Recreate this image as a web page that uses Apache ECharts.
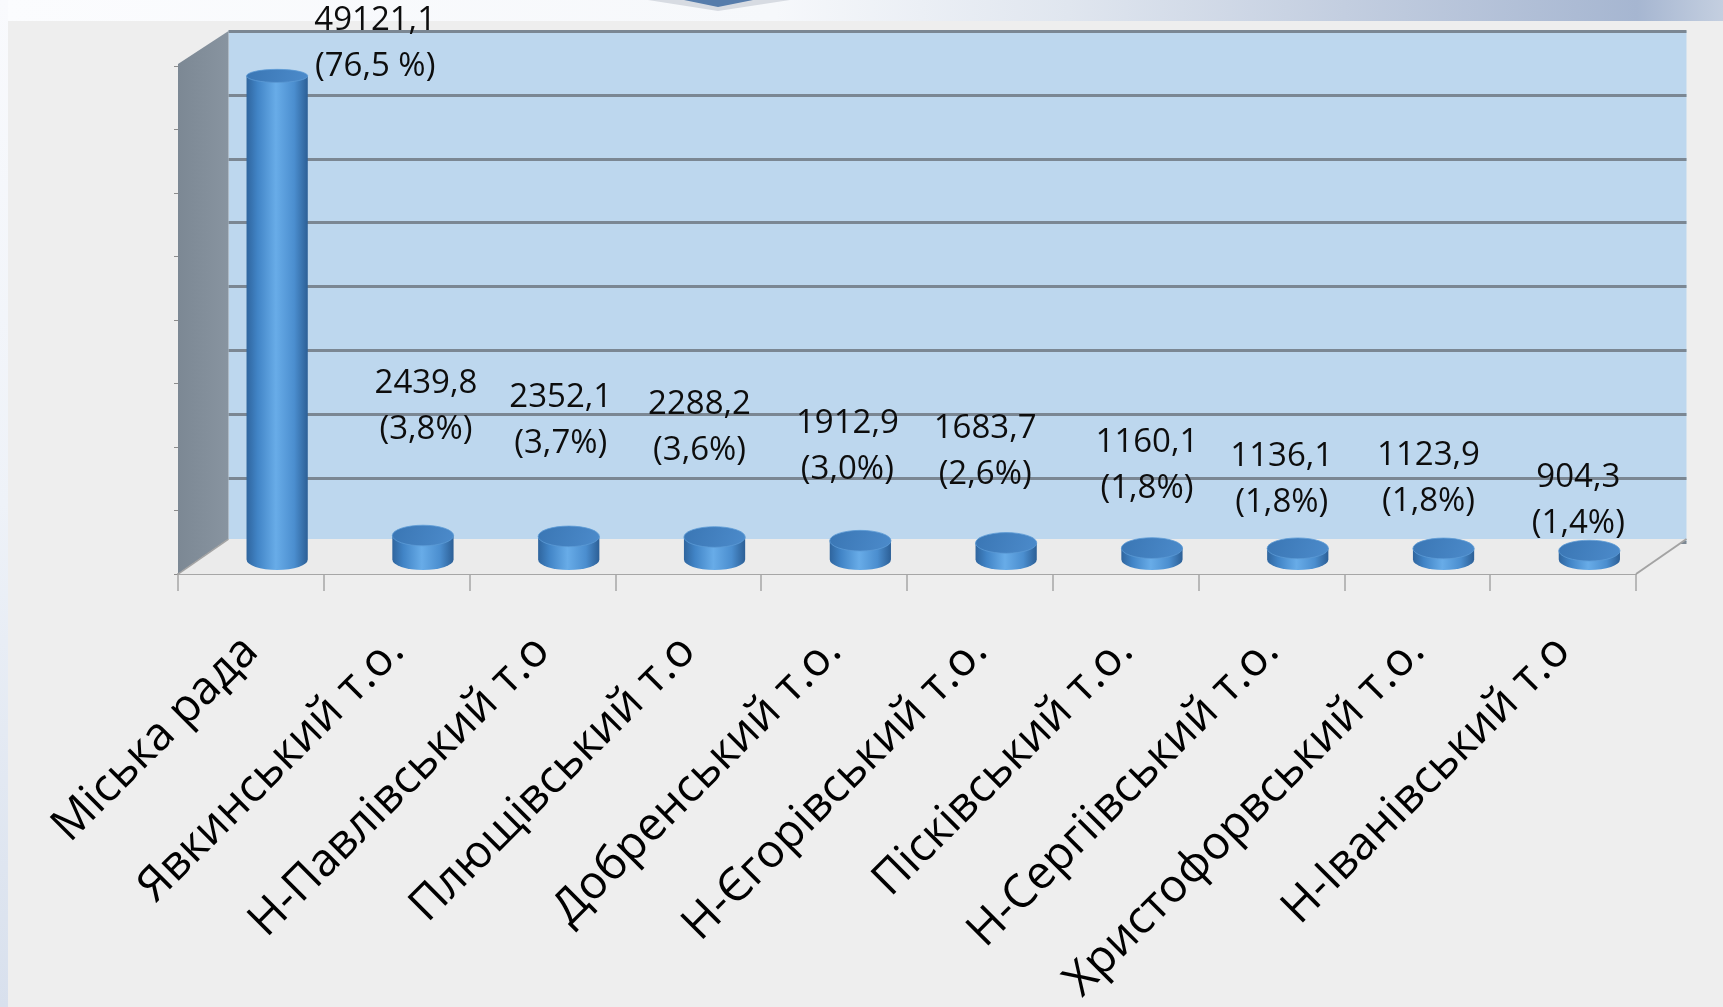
<!DOCTYPE html>
<html>
<head>
<meta charset="utf-8">
<title>Доходи за територіями</title>
<script src="https://cdn.jsdelivr.net/npm/echarts@6/dist/echarts.min.js"></script>
<style>
  html, body { margin: 0; padding: 0; }
  body { width: 1723px; height: 1007px; overflow: hidden; background: #eeeeee; position: relative; }
  .band-top { position: absolute; left: 0; top: 0; width: 1723px; height: 21px;
    background: linear-gradient(to right, #fbfcfe 0%, #f6f8fb 45%, #e0e6ef 62%, #c3cee0 78%, #a6b6d1 95%, #c4cfe0 100%); }
  .band-left { position: absolute; left: 0; top: 0; width: 8px; height: 1007px;
    background: linear-gradient(to bottom, #f9fafd 0%, #eef2f8 50%, #d8e0ed 100%); }
  #chart { position: absolute; left: 0; top: 0; width: 1723px; height: 1007px; }
</style>
</head>
<body>
<div class="band-top"></div>
<div class="band-left"></div>
<div id="chart"></div>
<script>
var categories = ['Міська рада', 'Явкинський т.о.', 'Н-Павлівський т.о', 'Плющівський т.о', 'Добренський т.о.',
  'Н-Єгорівський т.о.', 'Пісківський т.о.', 'Н-Сергіівський т.о.', 'Христофорвський т.о.', 'Н-Іванівський т.о'];
var values = [49121.1, 2439.8, 2352.1, 2288.2, 1912.9, 1683.7, 1160.1, 1136.1, 1123.9, 904.3];
var shares = [76.5, 3.8, 3.7, 3.6, 3.0, 2.6, 1.8, 1.8, 1.8, 1.4];

// label nudges (px) from the cylinder top: [dx, raise]
var labelNudge = [[98, 29], [3, 126], [-8, 113], [-15, 106], [-13, 91], [-21, 88], [-5, 80], [-16, 66], [-15, 67], [-11, 47]];

var Y_MAX = 51600;
var Y_STEP = 6450;
var DEPTH_X = 50.5;
var DEPTH_Y = -35;
var FONT = '"Open Sans", "Noto Sans", sans-serif';

function fmt(v) {
  return v.toFixed(1).replace('.', ',');
}

var chart = echarts.init(document.getElementById('chart'), null, { renderer: 'canvas' });

function renderWalls(params, api) {
  var cs = params.coordSys;
  var x0 = cs.x, x1 = cs.x + cs.width, yb = cs.y + cs.height;
  var backTop = yb + DEPTH_Y - cs.height;
  return {
    type: 'group',
    children: [
      {
        type: 'polygon',
        shape: { points: [[x0, yb], [x0, backTop + 33], [x0 + DEPTH_X, backTop], [x0 + DEPTH_X, yb + DEPTH_Y]] },
        style: {
          fill: new echarts.graphic.LinearGradient(0, 0, 1, 0, [
            { offset: 0, color: '#7c8894' },
            { offset: 1, color: '#8894a0' }
          ])
        }
      },
      {
        type: 'polygon',
        shape: { points: [[x0, yb], [x0 + DEPTH_X, yb + DEPTH_Y], [x1 + DEPTH_X, yb + DEPTH_Y], [x1, yb]] },
        style: { fill: '#ebebeb' }
      },
      {
        type: 'line',
        shape: { x1: x1, y1: yb, x2: x1 + DEPTH_X, y2: yb + DEPTH_Y },
        style: { stroke: '#a3a3a3', lineWidth: 2 }
      },
      {
        type: 'line',
        shape: { x1: x0, y1: yb, x2: x0 + DEPTH_X, y2: yb + DEPTH_Y },
        style: { stroke: '#a3a3a3', lineWidth: 1.5 }
      }
    ]
  };
}

function renderCylinder(params, api) {
  var i = api.value(0);
  var v = api.value(1);
  var base = api.coord([i, 0]);
  var top = api.coord([i, v]);
  var band = api.size([1, 0])[0];
  var rx = band * 0.21;
  var cx = base[0] + DEPTH_X / 2 + 1;
  var yb = base[1] + DEPTH_Y / 2 + 3;
  var yt = top[1] + DEPTH_Y / 2 + 3;
  var ryB = 10.5;
  var ryT = 6.5 + (yt - 70) / 490 * 4;

  var body = 'M ' + (cx - rx) + ' ' + yt +
    ' L ' + (cx - rx) + ' ' + yb +
    ' A ' + rx + ' ' + ryB + ' 0 0 0 ' + (cx + rx) + ' ' + yb +
    ' L ' + (cx + rx) + ' ' + yt + ' Z';
  var cap = 'M ' + (cx - rx) + ' ' + yt +
    ' A ' + rx + ' ' + ryT + ' 0 1 0 ' + (cx + rx) + ' ' + yt +
    ' A ' + rx + ' ' + ryT + ' 0 1 0 ' + (cx - rx) + ' ' + yt + ' Z';

  var nudge = labelNudge[params.dataIndex];
  var pct = '(' + fmt(shares[params.dataIndex]) + (params.dataIndex === 0 ? ' %)' : '%)');

  return {
    type: 'group',
    children: [
      {
        type: 'path',
        shape: { pathData: body },
        style: {
          fill: new echarts.graphic.LinearGradient(0, 0, 1, 0, [
            { offset: 0, color: '#2f659e' },
            { offset: 0.18, color: '#4184c6' },
            { offset: 0.48, color: '#68ace8' },
            { offset: 0.78, color: '#4b8ecf' },
            { offset: 1, color: '#2c5f96' }
          ])
        }
      },
      {
        type: 'path',
        shape: { pathData: cap },
        style: {
          fill: new echarts.graphic.LinearGradient(0, 0, 1, 1, [
            { offset: 0, color: '#3a76b4' },
            { offset: 1, color: '#4c8bcb' }
          ]),
          stroke: '#5c9ad6',
          lineWidth: 0.8
        }
      },
      {
        type: 'text',
        x: cx + nudge[0],
        y: yt - 3 - nudge[1],
        style: {
          text: fmt(values[params.dataIndex]) + '\n' + pct,
          fill: '#0d0d0d',
          font: '33px ' + FONT,
          lineHeight: 46,
          align: 'center',
          verticalAlign: 'middle'
        }
      }
    ]
  };
}

var option = {
  animation: false,
  grid: [
    { left: 178, top: 66, width: 1458, height: 511, show: false },
    { left: 228.5, top: 31, width: 1458, height: 511, show: true, backgroundColor: '#bdd7ee', borderWidth: 0 }
  ],
  xAxis: [
    {
      type: 'category',
      gridIndex: 0,
      data: categories,
      boundaryGap: true,
      axisLine: { lineStyle: { color: '#a6a6a6', width: 2 } },
      axisTick: { show: true, interval: 0, length: 17, lineStyle: { color: '#a6a6a6', width: 1.5 } },
      axisLabel: { interval: 0, rotate: 45, margin: 70, fontSize: 46, fontFamily: FONT, color: '#000000' }
    },
    {
      type: 'category',
      gridIndex: 1,
      data: categories,
      show: false
    }
  ],
  yAxis: [
    {
      type: 'value',
      gridIndex: 0,
      min: 0,
      max: Y_MAX,
      interval: Y_STEP,
      axisLine: { show: false },
      axisTick: { show: true, length: 4, lineStyle: { color: '#8c8c8c' } },
      axisLabel: { show: false },
      splitLine: { show: false }
    },
    {
      type: 'value',
      gridIndex: 1,
      min: 0,
      max: Y_MAX,
      interval: Y_STEP,
      axisLine: { show: false },
      axisTick: { show: false },
      axisLabel: { show: false },
      splitLine: { show: true, showMinLine: true, showMaxLine: true, lineStyle: { color: '#7b8793', width: 3 } }
    }
  ],
  graphic: [
    {
      type: 'polygon',
      shape: { points: [[648, 0], [790, 0], [718, 11]] },
      style: { fill: '#d7dbe2' },
      z: 0
    },
    {
      type: 'polygon',
      shape: { points: [[684, 0], [753, 0], [718, 7]] },
      style: { fill: '#567cab' },
      z: 0
    }
  ],
  series: [
    {
      type: 'custom',
      xAxisIndex: 0,
      yAxisIndex: 0,
      silent: true,
      clip: false,
      z: 1,
      data: [[0, 0]],
      renderItem: renderWalls
    },
    {
      type: 'custom',
      xAxisIndex: 0,
      yAxisIndex: 0,
      silent: true,
      clip: false,
      z: 3,
      data: values.map(function (v, i) { return [i, v]; }),
      renderItem: renderCylinder
    }
  ]
};

chart.setOption(option);
</script>
</body>
</html>
